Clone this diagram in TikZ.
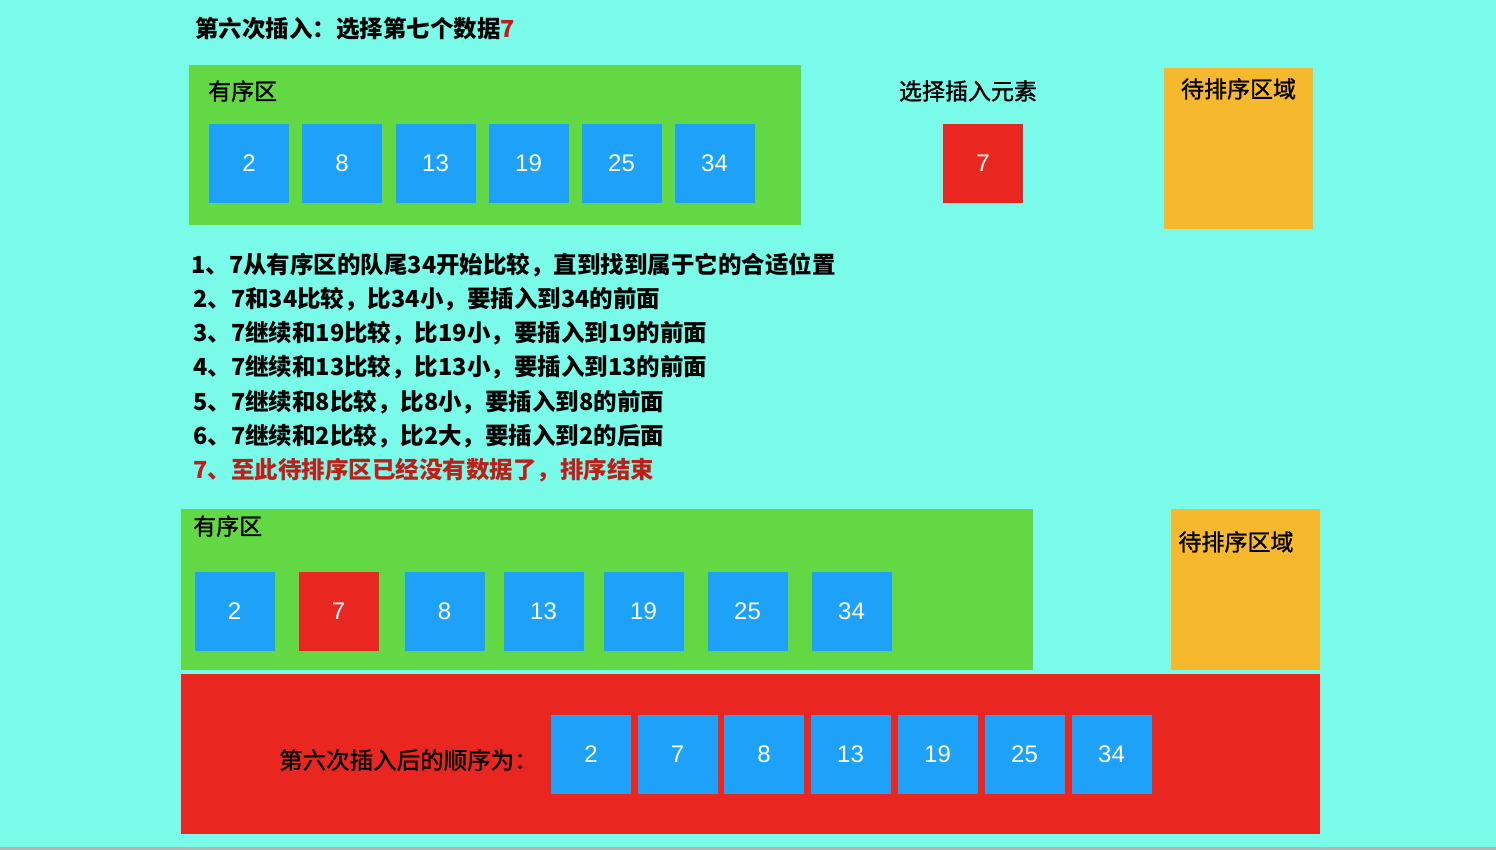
\documentclass[tikz,border=0pt]{standalone}
\usepackage{fontspec}
\setmainfont{Noto Sans CJK SC}
\newfontfamily\semifont[FakeBold=1.2]{Noto Sans CJK SC}
\newfontfamily\numfont{Liberation Sans}
\usetikzlibrary{positioning}

\definecolor{bgcyan}{RGB}{122,251,233}
\definecolor{zonegreen}{RGB}{98,216,69}
\definecolor{cellblue}{RGB}{29,161,249}
\definecolor{cellred}{RGB}{233,38,31}
\definecolor{waitorange}{RGB}{246,184,44}
\definecolor{notered}{RGB}{192,30,24}
\definecolor{edgegrey}{RGB}{180,180,180}

\tikzset{
  zone/.style={fill=zonegreen, inner sep=0, outer sep=0, anchor=north west},
  waitzone/.style={fill=waitorange, inner sep=0, outer sep=0, anchor=north west,
    minimum width=149, minimum height=161},
  resultzone/.style={fill=cellred, inner sep=0, outer sep=0, anchor=north west},
  cell/.style={fill=cellblue, inner sep=0, outer sep=0, minimum width=80,
    minimum height=79, text=white, font=\numfont\fontsize{24}{24}\selectfont},
  hotcell/.style={cell, fill=cellred},
  label/.style={inner sep=0, anchor=west, font=\semifont\fontsize{23}{23}\selectfont},
  stepline/.style={inner sep=0, anchor=west, font=\fontsize{23.5}{23.5}\selectfont\bfseries}
}

\begin{document}
\begin{tikzpicture}[x=1pt, y=-1pt]
    % Canvas
    \useasboundingbox (0,0) rectangle (1496,850);
    \fill[bgcyan] (0,0) rectangle (1496,850);
    \fill[edgegrey] (0,847) rectangle (1496,850);

    % Title
    \node[stepline] (title) at (195,29) {第六次插入：选择第七个数据{\color{notered}7}};

    % Sorted zone, before insertion
    \node[zone, minimum width=612, minimum height=160] (sortedA) at (189,65) {};
    \node[label] (sortedAlbl) at (208,91) {有序区};
    \node[cell] (a1) at (249,163.5) {2};
    \node[cell] (a2) at (342,163.5) {8};
    \node[cell] (a3) at (435.5,163.5) {13};
    \node[cell] (a4) at (528.5,163.5) {19};
    \node[cell] (a5) at (621.5,163.5) {25};
    \node[cell] (a6) at (714.5,163.5) {34};

    % Element picked for insertion
    \node[label, anchor=center] (pickLbl) at (968,91) {选择插入元素};
    \node[hotcell] (pick) at (983,163.5) {7};

    % Waiting zone, top
    \node[waitzone] (waitA) at (1164,68) {};
    \node[label, anchor=north] (waitAlbl) at (1238.5,78) {待排序区域};

    % Comparison steps
    \node[stepline] (step1) at (191,265) {1、7从有序区的队尾34开始比较，直到找到属于它的合适位置};
    \node[stepline] (step2) at (193,299) {2、7和34比较，比34小，要插入到34的前面};
    \node[stepline] (step3) at (193,333.5) {3、7继续和19比较，比19小，要插入到19的前面};
    \node[stepline] (step4) at (193,367.5) {4、7继续和13比较，比13小，要插入到13的前面};
    \node[stepline] (step5) at (193,402) {5、7继续和8比较，比8小，要插入到8的前面};
    \node[stepline] (step6) at (193,436) {6、7继续和2比较，比2大，要插入到2的后面};
    \node[stepline, text=notered] (step7) at (193,470) {7、至此待排序区已经没有数据了，排序结束};

    % Sorted zone, after insertion
    \node[zone, minimum width=852, minimum height=161] (sortedB) at (181,509) {};
    \node[label] (sortedBlbl) at (193,526) {有序区};
    \node[cell] (b1) at (234.5,611.5) {2};
    \node[hotcell] (b2) at (338.5,611.5) {7};
    \node[cell] (b3) at (444.5,611.5) {8};
    \node[cell] (b4) at (543.5,611.5) {13};
    \node[cell] (b5) at (643.5,611.5) {19};
    \node[cell] (b6) at (747.5,611.5) {25};
    \node[cell] (b7) at (851.5,611.5) {34};

    % Waiting zone, bottom (now empty)
    \node[waitzone] (waitB) at (1171,509) {};
    \node[label, anchor=north] (waitBlbl) at (1236,531) {待排序区域};

    % Order after the sixth insertion
    \node[resultzone, minimum width=1139, minimum height=160] (result) at (181,674) {};
    \node[label, font=\semifont\fontsize{23.5}{23.5}\selectfont] (resultLbl) at (279,760) {第六次插入后的顺序为：};
    \node[cell] (c1) at (591,754) {2};
    \node[cell] (c2) at (677.5,754) {7};
    \node[cell] (c3) at (764,754) {8};
    \node[cell] (c4) at (850.5,754) {13};
    \node[cell] (c5) at (937.5,754) {19};
    \node[cell] (c6) at (1024.5,754) {25};
    \node[cell] (c7) at (1111.5,754) {34};
\end{tikzpicture}
\end{document}
